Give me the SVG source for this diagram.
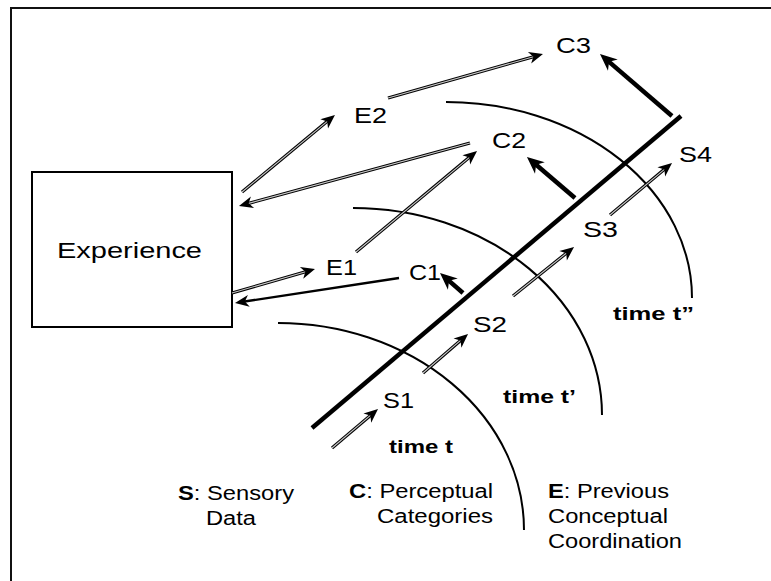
<svg xmlns="http://www.w3.org/2000/svg" width="771" height="581" viewBox="0 0 771 581">
<style>
.lbl{font-family:"Liberation Sans",Arial,sans-serif;font-size:22px;fill:#000}
.leg{font-family:"Liberation Sans",Arial,sans-serif;font-size:20px;fill:#000}
.tm{font-family:"Liberation Sans",Arial,sans-serif;font-size:18px;font-weight:bold;fill:#000}
.b{font-weight:bold}
.arc{fill:none;stroke:#000;stroke-width:2}
.ol{fill:none;stroke:#000;stroke-width:3.2}
.il{fill:none;stroke:#c8c8c8;stroke-width:1.1}
.sl{fill:none;stroke:#000;stroke-width:2.4}
.tk{fill:none;stroke:#000;stroke-width:4.5}
.hd{fill:none;stroke:none;marker-end:url(#ah)}
.hk{marker-end:url(#ahT)}
</style>
<defs>
<marker id="ah" markerUnits="userSpaceOnUse" viewBox="-16 -8 24 16" refX="-8" refY="0" markerWidth="24" markerHeight="16" orient="auto">
<path d="M0,0 L-14,-6 L-10,0 L-14,6 Z" fill="#000"/>
</marker>
<marker id="ahT" markerUnits="userSpaceOnUse" viewBox="-19 -9 28 18" refX="-9" refY="0" markerWidth="28" markerHeight="18" orient="auto">
<path d="M0,0 L-17,-7.5 L-12,0 L-17,7.5 Z" fill="#000"/>
</marker>
</defs>
<rect x="11" y="8" width="800" height="600" fill="#fff" stroke="#111" stroke-width="2"/>

<g id="time-arcs">
<path class="arc" d="M278,323 A246,207 0 0 1 524,530"/>
<path class="arc" d="M353,208 A249,207 0 0 1 602,415"/>
<path class="arc" d="M446,102 A246,196 0 0 1 692,298"/>
<path d="M312,428 L681,116" stroke="#000" stroke-width="4.5" fill="none"/>
</g>

<g id="experience">
<rect x="32" y="172" width="200" height="155" fill="none" stroke="#000" stroke-width="2"/>
<text class="lbl" x="57" y="258" font-size="23" textLength="145" lengthAdjust="spacingAndGlyphs">Experience</text>
</g>

<g id="connectors">
<!-- Experience -> E2 -->
<path class="ol" d="M242,192 L328.8,120.1"/><path class="il" d="M242,192 L328.8,120.1"/><path class="hd" d="M242,192 L328.8,120.1"/>
<!-- E2 -> C3 -->
<path class="ol" d="M388,98 L535.3,56.2"/><path class="il" d="M388,98 L535.3,56.2"/><path class="hd" d="M388,98 L535.3,56.2"/>
<!-- C2 -> Experience -->
<path class="ol" d="M470,143 L246.7,203.9"/><path class="il" d="M470,143 L246.7,203.9"/><path class="hd" d="M470,143 L246.7,203.9"/>
<!-- E1 -> C2 -->
<path class="ol" d="M356,252 L470.9,156.1"/><path class="il" d="M356,252 L470.9,156.1"/><path class="hd" d="M356,252 L470.9,156.1"/>
<!-- Experience -> E1 -->
<path class="ol" d="M232,293 L307.3,271.2"/><path class="il" d="M232,293 L307.3,271.2"/><path class="hd" d="M232,293 L307.3,271.2"/>
<!-- C1 -> Experience -->
<path class="sl" d="M399,278 L242.9,301.8" marker-end="url(#ah)"/>
<!-- line -> C1, C2, C3 -->
<path class="tk hk" d="M463,293 L446.8,278.9"/>
<path class="tk hk" d="M575,198 L533.8,162.8"/>
<path class="tk hk" d="M672,116 L606.8,59.9"/>
<!-- S arrows -->
<path class="ol" d="M332,448 L371.9,414.2"/><path class="il" d="M332,448 L371.9,414.2"/><path class="hd" d="M332,448 L371.9,414.2"/>
<path class="ol" d="M423,373 L462,339.2"/><path class="il" d="M423,373 L462,339.2"/><path class="hd" d="M423,373 L462,339.2"/>
<path class="ol" d="M513,296 L567.8,252"/><path class="il" d="M513,296 L567.8,252"/><path class="hd" d="M513,296 L567.8,252"/>
<path class="ol" d="M610,215 L665.9,168.1"/><path class="il" d="M610,215 L665.9,168.1"/><path class="hd" d="M610,215 L665.9,168.1"/>
</g>

<g id="E2"><text class="lbl" x="354" y="123" textLength="33" lengthAdjust="spacingAndGlyphs">E2</text></g>
<g id="C2"><text class="lbl" x="492" y="148" textLength="34" lengthAdjust="spacingAndGlyphs">C2</text></g>
<g id="C3"><text class="lbl" x="556" y="53" textLength="35" lengthAdjust="spacingAndGlyphs">C3</text></g>
<g id="S4"><text class="lbl" x="679" y="162" textLength="33" lengthAdjust="spacingAndGlyphs">S4</text></g>
<g id="S3"><text class="lbl" x="583" y="237" textLength="35" lengthAdjust="spacingAndGlyphs">S3</text></g>
<g id="E1"><text class="lbl" x="326" y="275" textLength="31" lengthAdjust="spacingAndGlyphs">E1</text></g>
<g id="C1"><text class="lbl" x="409" y="280" textLength="32" lengthAdjust="spacingAndGlyphs">C1</text></g>
<g id="S2"><text class="lbl" x="473" y="332" textLength="34" lengthAdjust="spacingAndGlyphs">S2</text></g>
<g id="S1"><text class="lbl" x="383" y="408" textLength="31" lengthAdjust="spacingAndGlyphs">S1</text></g>

<g id="time-labels">
<text class="tm" x="389" y="453" textLength="64" lengthAdjust="spacingAndGlyphs">time t</text>
<text class="tm" x="503" y="403" textLength="73" lengthAdjust="spacingAndGlyphs">time t’</text>
<text class="tm" x="613" y="320" textLength="81" lengthAdjust="spacingAndGlyphs">time t”</text>
</g>

<g id="legend">
<text class="leg" x="178" y="500" textLength="116" lengthAdjust="spacingAndGlyphs"><tspan class="b">S</tspan>: Sensory</text>
<text class="leg" x="206" y="525" textLength="50" lengthAdjust="spacingAndGlyphs">Data</text>
<text class="leg" x="349" y="498" textLength="144" lengthAdjust="spacingAndGlyphs"><tspan class="b">C</tspan>: Perceptual</text>
<text class="leg" x="377" y="523" textLength="116" lengthAdjust="spacingAndGlyphs">Categories</text>
<text class="leg" x="548" y="498" textLength="121" lengthAdjust="spacingAndGlyphs"><tspan class="b">E</tspan>: Previous</text>
<text class="leg" x="548" y="523" textLength="120" lengthAdjust="spacingAndGlyphs">Conceptual</text>
<text class="leg" x="548" y="548" textLength="134" lengthAdjust="spacingAndGlyphs">Coordination</text>
</g>
</svg>
